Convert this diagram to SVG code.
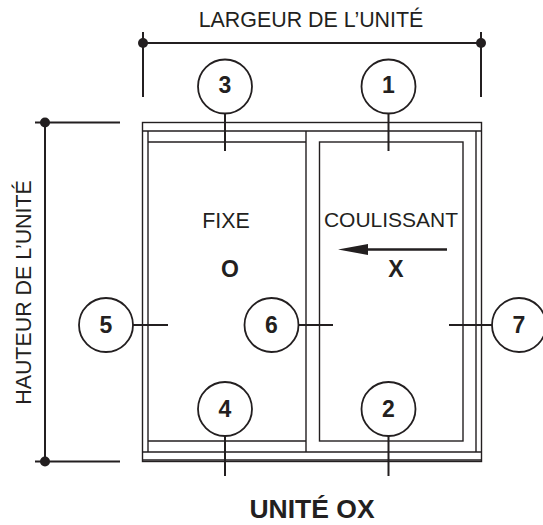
<svg xmlns="http://www.w3.org/2000/svg" width="543" height="525" viewBox="0 0 543 525">
<style>
text{font-family:"Liberation Sans",Arial,sans-serif;fill:#231f20;text-anchor:middle}
.l{font-size:21.400px}
.b{font-size:23px;font-weight:bold}
.f{fill:none;stroke:#231f20;stroke-width:1.4}
.d{fill:none;stroke:#231f20;stroke-width:2}
.c{fill:#fff;stroke:#231f20;stroke-width:1.8}
.dot{fill:#231f20}
</style>
<rect width="543" height="525" fill="#fff"/>
<g id="frame">
<rect class="f" x="142.5" y="122.5" width="339" height="339"/>
<path class="f" d="M142.5 131H481.5M142.5 452H481.5M142.5 460H481.5M148 131V452M306 131V452M476 131V452M148 142H306M148 441H306"/>
<rect class="f" x="319.5" y="142" width="143.500" height="299"/>
</g>
<g id="connectors">
<path class="d" d="M143 43H481M143 32V97M481 32V97M45 122.500V461.500M35 122.500H120M35 461.500H120"/>
<circle class="dot" cx="143" cy="43" r="5"/><circle class="dot" cx="481" cy="43" r="5"/>
<circle class="dot" cx="45" cy="122.500" r="5"/><circle class="dot" cx="45" cy="461.500" r="5"/>
<path class="d" d="M225 114V151M388.500 114V151M225 436V476M388.500 436V476M133 325H168M299 325H333M449 325H492"/>
<path d="M338 249.500L368 244V248.200H447V250.800H368V255Z" fill="#231f20"/>
</g>
<g id="n3"><circle class="c" cx="225" cy="86.500" r="27"/><text class="b" x="225" y="93">3</text></g>
<g id="n1"><circle class="c" cx="388.500" cy="86.500" r="27"/><text class="b" x="388.500" y="93">1</text></g>
<g id="n4"><circle class="c" cx="225" cy="409" r="27"/><text class="b" x="225" y="416.500">4</text></g>
<g id="n2"><circle class="c" cx="388.500" cy="409" r="27"/><text class="b" x="388.500" y="416.500">2</text></g>
<g id="n5"><circle class="c" cx="106" cy="325" r="27"/><text class="b" x="106" y="333">5</text></g>
<g id="n6"><circle class="c" cx="271.500" cy="325" r="27"/><text class="b" x="271.500" y="333">6</text></g>
<g id="n7"><circle class="c" cx="519" cy="325" r="27"/><text class="b" x="519" y="333">7</text></g>
<g id="labels">
<text class="l" x="311" y="27">LARGEUR DE L’UNITÉ</text>
<text class="l" transform="translate(31 292.500) rotate(-90)">HAUTEUR DE L’UNITÉ</text>
<text class="l" x="226" y="228">FIXE</text>
<text x="391" y="227" style="font-size:21px">COULISSANT</text>
<text class="b" x="230" y="277">O</text>
<text class="b" x="396" y="277">X</text>
<text x="312" y="518" style="font-size:26.500px;font-weight:bold">UNITÉ OX</text>
</g>
</svg>
